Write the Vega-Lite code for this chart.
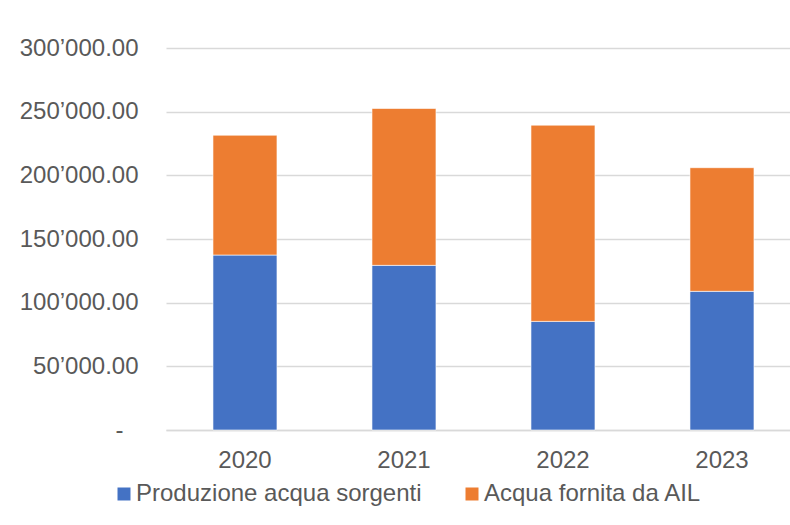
{
  "$schema": "https://vega.github.io/schema/vega-lite/v6.json",
  "width": 624,
  "height": 382,
  "autosize": {"type": "none"},
  "padding": {"left": 166, "top": 48, "right": 0, "bottom": 95},
  "background": "white",
  "config": {
    "locale": {"number": {"decimal": ".", "thousands": "’", "grouping": [3], "currency": ["", ""]}},
    "font": "Liberation Sans",
    "view": {"stroke": null},
    "axis": {"labelFont": "Liberation Sans", "labelFontSize": 24, "labelColor": "#595959"},
    "legend": {"labelFont": "Liberation Sans", "labelFontSize": 24, "labelColor": "#595959"}
  },
  "data": {
    "values": [
      {"anno": "2020", "serie": "Produzione acqua sorgenti", "ordine": 1, "valore": 137400},
      {"anno": "2020", "serie": "Acqua fornita da AIL", "ordine": 2, "valore": 94100},
      {"anno": "2021", "serie": "Produzione acqua sorgenti", "ordine": 1, "valore": 129300},
      {"anno": "2021", "serie": "Acqua fornita da AIL", "ordine": 2, "valore": 123200},
      {"anno": "2022", "serie": "Produzione acqua sorgenti", "ordine": 1, "valore": 85300},
      {"anno": "2022", "serie": "Acqua fornita da AIL", "ordine": 2, "valore": 154100},
      {"anno": "2023", "serie": "Produzione acqua sorgenti", "ordine": 1, "valore": 108900},
      {"anno": "2023", "serie": "Acqua fornita da AIL", "ordine": 2, "valore": 97100}
    ]
  },
  "mark": {"type": "bar", "stroke": "white", "strokeWidth": 0.6},
  "encoding": {
    "x": {
      "field": "anno",
      "type": "nominal",
      "scale": {"paddingInner": 0.5975, "paddingOuter": 0.261, "align": 0.566},
      "axis": {
        "title": null,
        "labelAngle": 0,
        "ticks": false,
        "tickSize": 0,
        "labelPadding": 18,
        "domainColor": "#d9d9d9",
        "domainWidth": 1.3
      }
    },
    "y": {
      "field": "valore",
      "type": "quantitative",
      "stack": "zero",
      "scale": {"domain": [0, 300000], "nice": false},
      "axis": {
        "title": null,
        "values": [0, 50000, 100000, 150000, 200000, 250000, 300000],
        "format": ",.2f",
        "labelExpr": "datum.value == 0 ? '-' : datum.label",
        "labelPadding": {"condition": {"test": "datum.value == 0", "value": 43}, "value": 28},
        "domain": false,
        "ticks": false,
        "tickSize": 0,
        "gridColor": "#d9d9d9",
        "gridWidth": 1.3
      }
    },
    "color": {
      "field": "serie",
      "type": "nominal",
      "scale": {"domain": ["Produzione acqua sorgenti", "Acqua fornita da AIL"], "range": ["#4472C4", "#ED7D31"]},
      "legend": {
        "title": null,
        "orient": "none",
        "direction": "horizontal",
        "legendX": -54,
        "legendY": 434,
        "labelLimit": 0,
        "symbolType": "square",
        "symbolSize": 169,
        "symbolStrokeWidth": 0,
        "symbolOpacity": 1,
        "labelOffset": 0,
        "columnPadding": 38
      }
    },
    "order": {"field": "ordine", "type": "quantitative"}
  }
}
